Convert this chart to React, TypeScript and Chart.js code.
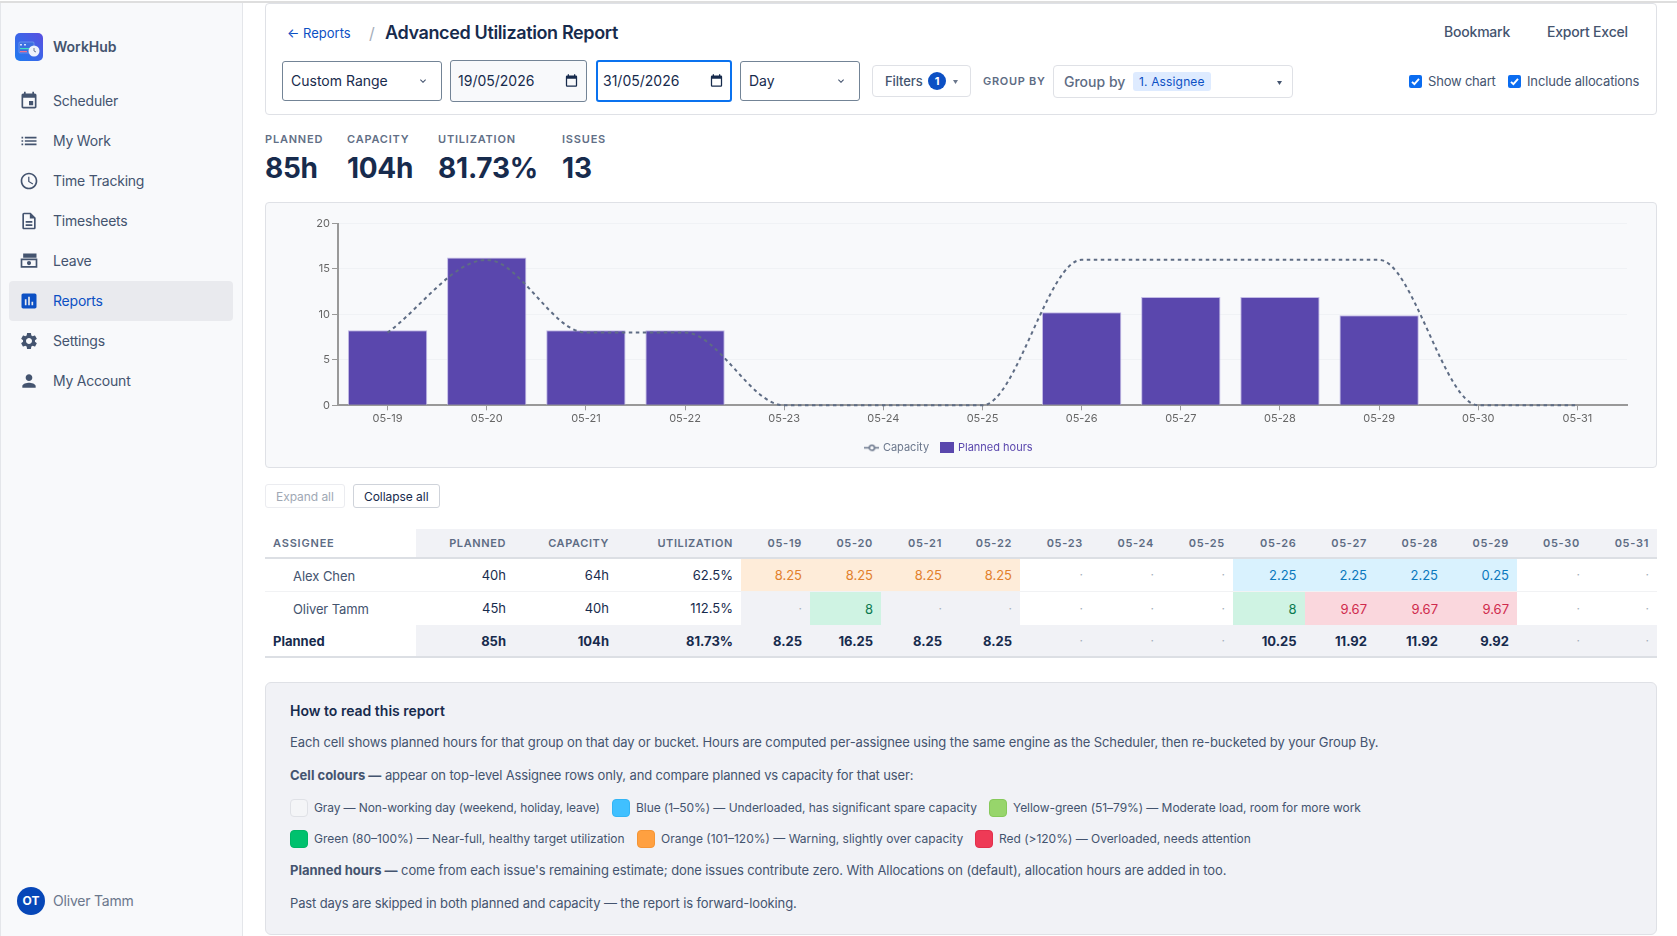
import { useEffect, useRef } from 'react';
import type { CSSProperties, ReactNode } from 'react';
import { Chart, registerables } from 'chart.js';

Chart.register(...registerables);

const days = ['05-19', '05-20', '05-21', '05-22', '05-23', '05-24', '05-25', '05-26', '05-27', '05-28', '05-29', '05-30', '05-31'];
const capacity = [8, 16, 8, 8, 0, 0, 0, 16, 16, 16, 16, 0, 0];
const plannedHours = [8.25, 16.25, 8.25, 8.25, 0, 0, 0, 10.25, 11.92, 11.92, 9.92, 0, 0];

const alexCells = ['8.25', '8.25', '8.25', '8.25', '', '', '', '2.25', '2.25', '2.25', '0.25', '', ''];
const alexTones = ['o', 'o', 'o', 'o', '', '', '', 'b', 'b', 'b', 'b', '', ''];
const oliverCells = ['', '8', '', '', '', '', '', '8', '9.67', '9.67', '9.67', '', ''];
const oliverTones = ['x', 'g', 'x', 'x', '', '', '', 'g', 'r', 'r', 'r', '', ''];
const totalCells = ['8.25', '16.25', '8.25', '8.25', '', '', '', '10.25', '11.92', '11.92', '9.92', '', ''];

const navItems = ['Scheduler', 'My Work', 'Time Tracking', 'Timesheets', 'Leave', 'Reports', 'Settings', 'My Account'];

const navIcons = [
  'M17 12h-5v5h5v-5zM16 1v2H8V1H6v2H5c-1.11 0-1.99.9-1.99 2L3 19c0 1.1.89 2 2 2h14c1.1 0 2-.9 2-2V5c0-1.1-.9-2-2-2h-1V1h-2zm3 18H5V8h14v11z',
  'M3 13h2v-2H3v2zm0 4h2v-2H3v2zm0-8h2V7H3v2zm4 4h14v-2H7v2zm0 4h14v-2H7v2zM7 7v2h14V7H7z',
  'M11.99 2C6.47 2 2 6.48 2 12s4.47 10 9.99 10C17.52 22 22 17.52 22 12S17.52 2 11.99 2zM12 20c-4.42 0-8-3.58-8-8s3.58-8 8-8 8 3.58 8 8-3.58 8-8 8zm.5-13H11v6l5.25 3.15.75-1.23-4.5-2.67z',
  'M8 16h8v2H8zm0-4h8v2H8zm6-10H6c-1.1 0-2 .9-2 2v16c0 1.1.89 2 1.99 2H18c1.1 0 2-.9 2-2V8l-6-6zm4 18H6V4h7v5h5v11z',
  'M5 3h16v5H5zM2 9h20v11H2zm2 2v7h16v-7zm8 1a2.5 2.5 0 1 1 0 5 2.5 2.5 0 0 1 0-5z',
  'M19 3H5c-1.1 0-2 .9-2 2v14c0 1.1.9 2 2 2h14c1.1 0 2-.9 2-2V5c0-1.1-.9-2-2-2zM9 17H7v-7h2v7zm4 0h-2V7h2v10zm4 0h-2v-4h2v4z',
  'M19.14 12.94c.04-.3.06-.61.06-.94 0-.32-.02-.64-.07-.94l2.03-1.58a.49.49 0 0 0 .12-.61l-1.92-3.32a.488.488 0 0 0-.59-.22l-2.39.96c-.5-.38-1.03-.7-1.62-.94l-.36-2.54a.484.484 0 0 0-.48-.41h-3.84c-.24 0-.43.17-.47.41l-.36 2.54c-.59.24-1.13.57-1.62.94l-2.39-.96c-.22-.08-.47 0-.59.22L2.74 8.87c-.12.21-.08.47.12.61l2.03 1.58c-.05.3-.09.63-.09.94s.02.64.07.94l-2.03 1.58a.49.49 0 0 0-.12.61l1.92 3.32c.12.22.37.29.59.22l2.39-.96c.5.38 1.03.7 1.62.94l.36 2.54c.05.24.24.41.48.41h3.84c.24 0 .44-.17.47-.41l.36-2.54c.59-.24 1.13-.56 1.62-.94l2.39.96c.22.08.47 0 .59-.22l1.92-3.32c.12-.22.07-.47-.12-.61l-2.01-1.58zM12 15.6c-1.98 0-3.6-1.62-3.6-3.6s1.62-3.6 3.6-3.6 3.6 1.62 3.6 3.6-1.62 3.6-3.6 3.6z',
  'M12 12c2.21 0 4-1.79 4-4s-1.79-4-4-4-4 1.79-4 4 1.79 4 4 4zm0 2c-2.67 0-8 1.34-8 4v2h16v-2c0-2.66-5.33-4-8-4z',
];

const calendarIcon = 'M19 4h-1V2h-2v2H8V2H6v2H5a2 2 0 0 0-2 2v14a2 2 0 0 0 2 2h14a2 2 0 0 0 2-2V6a2 2 0 0 0-2-2zm0 16H5V9h14v11z';
const chevronIcon = 'M7.4 8.6 12 13.2l4.6-4.6L18 10l-6 6-6-6z';

// right edge of each table column, the day columns are tinted up to these
const dayEdges = [741, 810, 881, 950, 1020, 1091, 1162, 1233, 1304.5, 1375, 1446, 1517, 1588, 1657];

const toneBg: Record<string, string> = { o: '#feecd9', b: '#d9f2fe', g: '#cff3e3', r: '#fad7dd', x: '#f1f2f6', '': 'transparent' };
const toneText: Record<string, string> = { o: '#e2802c', b: '#0a78bd', g: '#0b7a50', r: '#cf2a4c', x: '#44546f', '': '#44546f' };

const font = 'Inter, "Noto Sans", sans-serif';

function Txt({ x, y, right, size = 13, weight = 400, color = '#44546f', spacing, children }: {
  x?: number; y: number; right?: number; size?: number; weight?: number; color?: string; spacing?: number; children: ReactNode;
}) {
  const style: CSSProperties = {
    position: 'absolute', top: y - 10, height: 20, lineHeight: '20px', fontSize: size, fontWeight: weight,
    color, whiteSpace: 'nowrap', letterSpacing: spacing,
  };
  if (right !== undefined) style.right = 1677 - right;
  else style.left = x;
  return <div style={style}>{children}</div>;
}

function Box({ x, y, x2, y2, style, children }: { x: number; y: number; x2: number; y2: number; style?: CSSProperties; children?: ReactNode }) {
  return <div style={{ position: 'absolute', left: x, top: y, width: x2 - x, height: y2 - y, boxSizing: 'border-box', ...style }}>{children}</div>;
}

function Icon({ d, x, y, size, color }: { d: string; x: number; y: number; size: number; color: string }) {
  return (
    <svg viewBox="0 0 24 24" width={size} height={size} style={{ position: 'absolute', left: x - size / 2, top: y - size / 2 }}>
      <path d={d} fill={color} fillRule="evenodd" />
    </svg>
  );
}

function Caret({ x, y, color }: { x: number; y: number; color: string }) {
  return (
    <svg width={5} height={4} viewBox="0 0 5 4" style={{ position: 'absolute', left: x - 2.5, top: y - 2 }}>
      <path d="M0 0h5L2.5 4z" fill={color} />
    </svg>
  );
}

function Check({ x, y }: { x: number; y: number }) {
  return (
    <svg width={13} height={13} viewBox="0 0 13 13" style={{ position: 'absolute', left: x, top: y }}>
      <rect width={13} height={13} rx={2} fill="#0a6cf0" />
      <path d="M3 6.8 5.4 9.2 10 3.9" stroke="#fff" strokeWidth={1.9} fill="none" />
    </svg>
  );
}

function Swatch({ x, y, bg, border }: { x: number; y: number; bg: string; border?: string }) {
  return <Box x={x} y={y - 9} x2={x + 18} y2={y + 9} style={{ background: bg, borderRadius: 4, border: border ? `1px solid ${border}` : undefined }} />;
}

function capacityLegendIcon() {
  const c = document.createElement('canvas');
  c.width = 15;
  c.height = 9;
  const g = c.getContext('2d')!;
  g.strokeStyle = '#6b778c';
  g.lineWidth = 1.5;
  g.beginPath();
  g.moveTo(0, 4.5);
  g.lineTo(15, 4.5);
  g.stroke();
  g.fillStyle = '#f8f9fb';
  g.beginPath();
  g.arc(7.5, 4.5, 2.6, 0, Math.PI * 2);
  g.fill();
  g.stroke();
  return c;
}

function plannedLegendIcon() {
  const c = document.createElement('canvas');
  c.width = 14;
  c.height = 11;
  const g = c.getContext('2d')!;
  g.fillStyle = '#5a47ad';
  g.fillRect(0, 0, 14, 11);
  return c;
}

function UtilChart() {
  const canvasRef = useRef<HTMLCanvasElement | null>(null);

  useEffect(() => {
    if (!canvasRef.current) return;
    const chart = new Chart(canvasRef.current, {
      type: 'bar',
      data: {
        labels: days,
        datasets: [
          {
            type: 'line',
            label: 'Capacity',
            data: capacity,
            borderColor: '#5e6c84',
            borderWidth: 2,
            borderDash: [3.5, 3.5],
            pointRadius: 0,
            cubicInterpolationMode: 'monotone',
            fill: false,
            clip: false,
            order: 0,
          },
          {
            type: 'bar',
            label: 'Planned hours',
            data: plannedHours,
            backgroundColor: '#5a47ad',
            borderColor: '#c3bbe6',
            borderWidth: 1,
            barPercentage: 0.8,
            categoryPercentage: 1,
            order: 1,
          },
        ],
      },
      options: {
        animation: false,
        responsive: false,
        maintainAspectRatio: false,
        layout: { padding: { left: 6, right: 28, top: 19.5, bottom: 3.7 } },
        scales: {
          x: {
            offset: true,
            grid: { offset: false, drawOnChartArea: false, tickColor: '#999', tickLength: 5 },
            border: { color: '#999', width: 2 },
            ticks: { color: '#666', font: { family: font, size: 11 }, maxRotation: 0, autoSkip: false, padding: 2 },
            afterFit: (s: any) => { s.height = 24.6; },
          },
          y: {
            min: 0,
            max: 20,
            grid: { color: '#f0f2f5', tickColor: '#999', tickLength: 6 },
            border: { color: '#999', width: 2 },
            ticks: { stepSize: 5, color: '#666', font: { family: font, size: 11 }, padding: 2 },
            afterFit: (s: any) => { s.width = 66; },
          },
        },
        plugins: {
          tooltip: { enabled: false },
          legend: {
            position: 'bottom',
            labels: {
              usePointStyle: true,
              font: { family: font, size: 11 },
              boxHeight: 11,
              padding: 12.4,
              generateLabels: () => [
                { text: 'Capacity', fontColor: '#6b778c', pointStyle: capacityLegendIcon(), datasetIndex: 0, lineWidth: 0, strokeStyle: 'transparent', fillStyle: 'transparent' },
                { text: 'Planned hours', fontColor: '#5a47ad', pointStyle: plannedLegendIcon(), datasetIndex: 1, lineWidth: 0, strokeStyle: 'transparent', fillStyle: 'transparent' },
              ] as any,
            },
          },
        },
      },
    } as any);
    return () => {
      chart.destroy();
    };
  }, []);

  return <canvas ref={canvasRef} width={1389} height={263} style={{ position: 'absolute', left: 266, top: 204, width: 1389, height: 263 }} />;
}

function DayRow({ y, y2, cells, tones, bold }: { y: number; y2: number; cells: string[]; tones?: string[]; bold?: boolean }) {
  const mid = (y + y2) / 2;
  return (
    <>
      {cells.map((v, i) => {
        const tone = tones ? tones[i] : '';
        const right = dayEdges[i + 1] - 8;
        return (
          <div key={days[i]}>
            {tone && <Box x={dayEdges[i]} y={y} x2={dayEdges[i + 1]} y2={y2} style={{ background: toneBg[tone] }} />}
            {v
              ? <Txt right={right} y={mid} weight={bold ? 700 : 400} color={bold ? '#172b4d' : toneText[tone]}>{v}</Txt>
              : <Txt right={right} y={mid} color="#a5adba" size={12}>·</Txt>}
          </div>
        );
      })}
    </>
  );
}

export default function App() {
  const boldLead: CSSProperties = { letterSpacing: 0 };
  return (
    <div style={{ position: 'absolute', left: 0, top: 0, width: 1677, height: 936, overflow: 'hidden', background: '#fff', fontFamily: font }}>
      {/* sidebar */}
      <Box x={0} y={2} x2={243} y2={936} style={{ background: '#f8f9fb', borderRight: '1px solid #e4e6ea', borderLeft: '1px solid #e4e6ea' }} />
      <Box x={0} y={1} x2={1677} y2={3} style={{ background: '#dedede' }} />
      <svg width={28} height={28} viewBox="0 0 28 28" style={{ position: 'absolute', left: 15, top: 33 }}>
        <defs>
          <linearGradient id="lg" x1="1" y1="0" x2="0" y2="1">
            <stop offset="0" stopColor="#5a4fe0" />
            <stop offset="1" stopColor="#1f7cf0" />
          </linearGradient>
        </defs>
        <rect width={28} height={28} rx={5} fill="url(#lg)" />
        <rect x={4} y={9} width={15} height={11} rx={1} fill="#3c6fe0" stroke="#8fb4f5" strokeWidth={0.5} />
        <rect x={5} y={15} width={9} height={1.2} fill="#3de0c0" />
        <rect x={5} y={18} width={7} height={1.2} fill="#f07090" />
        <rect x={5} y={11} width={2} height={1.5} fill="#cfe0ff" />
        <rect x={9} y={11} width={2} height={1.5} fill="#cfe0ff" />
        <circle cx={19} cy={18} r={5.5} fill="#eef3fb" />
        <path d="M19 15v3l2 1" stroke="#5d6b85" strokeWidth={0.9} fill="none" />
      </svg>
      <Txt x={53} y={47} size={14} weight={600} color="#44546f">WorkHub</Txt>
      <Box x={9} y={281} x2={233} y2={321} style={{ background: '#e9eaee', borderRadius: 4 }} />
      {navItems.map((item, i) => {
        const y = 101 + i * 40;
        const active = item === 'Reports';
        return (
          <div key={item}>
            <Icon d={navIcons[i]} x={29} y={y} size={20} color={active ? '#0c50c4' : '#44546f'} />
            <Txt x={53} y={y} size={14} spacing={-0.22} color={active ? '#0c50c4' : '#44546f'}>{item}</Txt>
          </div>
        );
      })}
      <div style={{ position: 'absolute', left: 17, top: 887, width: 28, height: 28, borderRadius: 14, background: '#0747b8', color: '#fff', fontSize: 12, fontWeight: 700, textAlign: 'center', lineHeight: '28px' }}>OT</div>
      <Txt x={53} y={901} size={14} spacing={-0.2} color="#6b778c">Oliver Tamm</Txt>

      {/* toolbar card */}
      <Box x={265} y={3} x2={1657} y2={115} style={{ border: '1px solid #dfe1e6', borderRadius: 4 }} />
      <Txt x={287} y={33} size={13} color="#0c50c4">← Reports</Txt>
      <Txt x={369} y={33} size={16} color="#a5adba">/</Txt>
      <Txt x={385} y={33} size={18} weight={600} spacing={-0.37} color="#172b4d">Advanced Utilization Report</Txt>
      <Txt x={1444} y={32} size={14} weight={500} spacing={-0.2} color="#44546f">Bookmark</Txt>
      <Txt x={1547} y={32} size={14} weight={500} spacing={-0.2} color="#44546f">Export Excel</Txt>

      <Box x={282} y={61} x2={442} y2={101} style={{ border: '1px solid #738496', borderRadius: 3 }} />
      <Txt x={291} y={81} size={14} color="#172b4d">Custom Range</Txt>
      <Icon d={chevronIcon} x={423} y={81} size={12} color="#44546f" />
      <Box x={450} y={60} x2={587} y2={102} style={{ border: '1px solid #738496', borderRadius: 3, background: '#f8f9fb' }} />
      <Txt x={458} y={81} size={14} color="#172b4d">19/05/2026</Txt>
      <Icon d={calendarIcon} x={571} y={80} size={15} color="#172b4d" />
      <Box x={596} y={60} x2={732} y2={102} style={{ border: '2px solid #0a72ef', borderRadius: 3 }} />
      <Txt x={603} y={81} size={14} color="#172b4d">31/05/2026</Txt>
      <Icon d={calendarIcon} x={716} y={80} size={15} color="#172b4d" />
      <Box x={740} y={61} x2={860} y2={101} style={{ border: '1px solid #738496', borderRadius: 3 }} />
      <Txt x={749} y={81} size={14} color="#172b4d">Day</Txt>
      <Icon d={chevronIcon} x={841} y={81} size={12} color="#44546f" />

      <Box x={872} y={65} x2={971} y2={97} style={{ border: '1px solid #dfe1e6', borderRadius: 4 }} />
      <Txt x={885} y={81} size={13} weight={500} spacing={-0.1} color="#44546f">Filters</Txt>
      <div style={{ position: 'absolute', left: 928, top: 72, width: 18, height: 18, borderRadius: 9, background: '#0c50c4', color: '#fff', fontSize: 11, fontWeight: 700, textAlign: 'center', lineHeight: '18px' }}>1</div>
      <Caret x={955} y={82} color="#6b778c" />
      <Txt x={983} y={81} size={11} weight={600} spacing={0.7} color="#5e6c84">GROUP BY</Txt>
      <Box x={1053} y={65} x2={1293} y2={98} style={{ border: '1px solid #dfe1e6', borderRadius: 4 }} />
      <Txt x={1064} y={82} size={14} weight={500} color="#5e6c84">Group by</Txt>
      <Box x={1133} y={72} x2={1211} y2={91} style={{ background: '#deebff', borderRadius: 3 }} />
      <Txt x={1139} y={82} size={12} spacing={0.15} color="#0c50c4">1. Assignee</Txt>
      <Caret x={1279} y={83} color="#44546f" />
      <Check x={1409} y={75} />
      <Txt x={1428} y={81} size={13} spacing={-0.2} color="#44546f">Show chart</Txt>
      <Check x={1508} y={75} />
      <Txt x={1527} y={81} size={13} spacing={-0.12} color="#44546f">Include allocations</Txt>

      {/* summary numbers */}
      <Txt x={265} y={139} size={11} weight={600} spacing={0.8} color="#626f86">PLANNED</Txt>
      <Txt x={347} y={139} size={11} weight={600} spacing={0.8} color="#626f86">CAPACITY</Txt>
      <Txt x={438} y={139} size={11} weight={600} spacing={0.8} color="#626f86">UTILIZATION</Txt>
      <Txt x={562} y={139} size={11} weight={600} spacing={0.8} color="#626f86">ISSUES</Txt>
      <Txt x={265} y={168} size={28} weight={700} spacing={-0.3} color="#172b4d">85h</Txt>
      <Txt x={347} y={168} size={28} weight={700} spacing={-0.3} color="#172b4d">104h</Txt>
      <Txt x={438} y={168} size={28} weight={700} spacing={-0.2} color="#172b4d">81.73%</Txt>
      <Txt x={562} y={168} size={28} weight={700} color="#172b4d">13</Txt>

      {/* chart card */}
      <Box x={265} y={202} x2={1657} y2={468} style={{ border: '1px solid #dfe1e6', borderRadius: 4, background: '#f8f9fb' }} />
      <UtilChart />

      {/* table */}
      <Box x={265} y={484} x2={345} y2={508} style={{ border: '1px solid #ebecf0', borderRadius: 3 }} />
      <Txt x={276} y={497} size={12} spacing={-0.05} color="#a0a8b4">Expand all</Txt>
      <Box x={353} y={484} x2={440} y2={508} style={{ border: '1px solid #cfd3da', borderRadius: 3 }} />
      <Txt x={364} y={497} size={12} spacing={-0.05} color="#172b4d">Collapse all</Txt>

      <Box x={416} y={529} x2={1657} y2={557} style={{ background: '#f1f2f6' }} />
      <Box x={265} y={557} x2={1657} y2={559} style={{ background: '#dcdfe4' }} />
      <Box x={265} y={591} x2={1657} y2={592} style={{ background: '#f1f2f4' }} />
      <Box x={416} y={625} x2={1657} y2={656} style={{ background: '#f1f2f6' }} />
      <Box x={265} y={656} x2={1657} y2={658} style={{ background: '#dcdfe4' }} />
      <Txt x={273} y={543} size={11} weight={600} spacing={0.8} color="#5e6c84">ASSIGNEE</Txt>
      <Txt right={506} y={543} size={11} weight={600} spacing={0.6} color="#5e6c84">PLANNED</Txt>
      <Txt right={609} y={543} size={11} weight={600} spacing={0.6} color="#5e6c84">CAPACITY</Txt>
      <Txt right={733} y={543} size={11} weight={600} spacing={0.6} color="#5e6c84">UTILIZATION</Txt>
      {days.map((d, i) => (
        <Txt key={d} right={dayEdges[i + 1] - 8} y={543} size={11} weight={600} spacing={0.7} color="#5e6c84">{d}</Txt>
      ))}

      <DayRow y={559} y2={591} cells={alexCells} tones={alexTones} />
      <DayRow y={592} y2={625} cells={oliverCells} tones={oliverTones} />
      <DayRow y={625} y2={656} cells={totalCells} bold />

      <Txt x={293} y={576} size={13} spacing={-0.05} color="#44546f">Alex Chen</Txt>
      <Txt right={506} y={575} color="#172b4d">40h</Txt>
      <Txt right={609} y={575} color="#172b4d">64h</Txt>
      <Txt right={733} y={575} color="#172b4d">62.5%</Txt>
      <Txt x={293} y={609} size={13} spacing={-0.1} color="#44546f">Oliver Tamm</Txt>
      <Txt right={506} y={608} color="#172b4d">45h</Txt>
      <Txt right={609} y={608} color="#172b4d">40h</Txt>
      <Txt right={733} y={608} color="#172b4d">112.5%</Txt>
      <Txt x={273} y={641} weight={700} color="#172b4d">Planned</Txt>
      <Txt right={506} y={641} weight={700} color="#172b4d">85h</Txt>
      <Txt right={609} y={641} weight={700} color="#172b4d">104h</Txt>
      <Txt right={733} y={641} weight={700} color="#172b4d">81.73%</Txt>

      {/* how to read */}
      <Box x={265} y={682} x2={1657} y2={935} style={{ background: '#f1f2f6', border: '1px solid #dfe1e6', borderRadius: 6 }} />
      <Txt x={290} y={711} size={14} weight={600} color="#172b4d">How to read this report</Txt>
      <Txt x={290} y={742} spacing={-0.097}>Each cell shows planned hours for that group on that day or bucket. Hours are computed per-assignee using the same engine as the Scheduler, then re-bucketed by your Group By.</Txt>
      <Txt x={290} y={775} spacing={-0.14}><b style={boldLead}>Cell colours —</b> appear on top-level Assignee rows only, and compare planned vs capacity for that user:</Txt>
      <Swatch x={290} y={808} bg="#f4f5f7" border="#dfe1e6" />
      <Txt x={314} y={808} size={12} spacing={-0.11}>Gray — Non-working day (weekend, holiday, leave)</Txt>
      <Swatch x={612} y={808} bg="#40c0ff" border="#33b5f5" />
      <Txt x={636} y={808} size={12} spacing={-0.04}>Blue (1–50%) — Underloaded, has significant spare capacity</Txt>
      <Swatch x={989} y={808} bg="#97d56b" border="#86c95a" />
      <Txt x={1013} y={808} size={12} spacing={-0.06}>Yellow-green (51–79%) — Moderate load, room for more work</Txt>
      <Swatch x={290} y={839} bg="#00c16e" border="#00b566" />
      <Txt x={314} y={839} size={12}>Green (80–100%) — Near-full, healthy target utilization</Txt>
      <Swatch x={637} y={839} bg="#ffa040" border="#f59535" />
      <Txt x={661} y={839} size={12}>Orange (101–120%) — Warning, slightly over capacity</Txt>
      <Swatch x={975} y={839} bg="#ee3a56" border="#e2304c" />
      <Txt x={999} y={839} size={12} spacing={-0.02}>Red (&gt;120%) — Overloaded, needs attention</Txt>
      <Txt x={290} y={870} spacing={-0.1}><b style={boldLead}>Planned hours —</b> come from each issue's remaining estimate; done issues contribute zero. With Allocations on (default), allocation hours are added in too.</Txt>
      <Txt x={290} y={903} spacing={-0.127}>Past days are skipped in both planned and capacity — the report is forward-looking.</Txt>
    </div>
  );
}
